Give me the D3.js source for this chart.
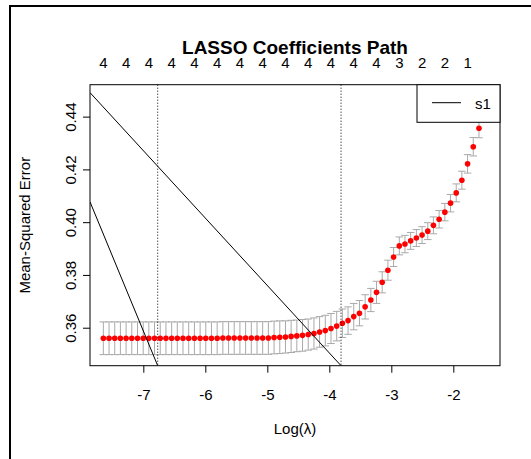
<!DOCTYPE html>
<html>
<head>
<meta charset="utf-8">
<script src="https://cdn.jsdelivr.net/npm/d3@7"></script>
<style>
  body { margin: 0; background: #fff; }
  text { font-family: "Liberation Sans", Arial, sans-serif; }
</style>
</head>
<body>
<div id="chart"></div>
<script>
// log(lambda) values of the cv path
const logLambda = [
  -7.645, -7.553, -7.461, -7.370, -7.278, -7.186, -7.094, -7.002, -6.911, -6.819,
  -6.727, -6.635, -6.543, -6.452, -6.360, -6.268, -6.176, -6.084, -5.993, -5.901,
  -5.809, -5.717, -5.625, -5.534, -5.442, -5.350, -5.258, -5.166, -5.075, -4.983,
  -4.891, -4.799, -4.707, -4.616, -4.524, -4.432, -4.340, -4.248, -4.157, -4.065,
  -3.973, -3.881, -3.789, -3.698, -3.606, -3.514, -3.422, -3.330, -3.239, -3.147,
  -3.055, -2.963, -2.871, -2.780, -2.688, -2.596, -2.504, -2.412, -2.321, -2.229,
  -2.137, -2.045, -1.953, -1.862, -1.770, -1.678, -1.586
];
// mean cross-validated error
const cvm = [
  0.3560, 0.3560, 0.3560, 0.3560, 0.3560, 0.3560, 0.3560, 0.3560, 0.3560, 0.3560,
  0.3560, 0.3560, 0.3560, 0.3560, 0.3560, 0.3560, 0.3560, 0.3560, 0.3560, 0.3560,
  0.3560, 0.3561, 0.3561, 0.3561, 0.3561, 0.3561, 0.3561, 0.3561, 0.3561, 0.3561,
  0.3563, 0.3564, 0.3565, 0.3567, 0.3569, 0.3571, 0.3574, 0.3578, 0.3584, 0.3589,
  0.3597, 0.3606, 0.3617, 0.3627, 0.3642, 0.3655, 0.3679, 0.3705, 0.3734, 0.3772,
  0.3818, 0.3868, 0.3910, 0.3917, 0.3929, 0.3940, 0.3951, 0.3966, 0.3988, 0.4011,
  0.4038, 0.4072, 0.4111, 0.4159, 0.4221, 0.4286, 0.4356
];
// standard error of cvm
const cvsd = [
  0.0062, 0.0062, 0.0062, 0.0062, 0.0062, 0.0062, 0.0062, 0.0062, 0.0062, 0.0062,
  0.0062, 0.0062, 0.0062, 0.0062, 0.0062, 0.0062, 0.0062, 0.0062, 0.0062, 0.0062,
  0.0062, 0.0062, 0.0062, 0.0062, 0.0062, 0.0062, 0.0062, 0.0062, 0.0062, 0.0062,
  0.0062, 0.0062, 0.0061, 0.0061, 0.0060, 0.0060, 0.0059, 0.0059, 0.0058, 0.0058,
  0.0057, 0.0056, 0.0054, 0.0052, 0.0050, 0.0048, 0.0046, 0.0044, 0.0042, 0.0040,
  0.0038, 0.0036, 0.0034, 0.0033, 0.0032, 0.0032, 0.0032, 0.0032, 0.0032, 0.0033,
  0.0033, 0.0033, 0.0034, 0.0034, 0.0035, 0.0035, 0.0036
];
// number of nonzero coefficients (top axis), every 4th lambda
const nzeroAt = [-7.645, -7.278, -6.911, -6.543, -6.176, -5.809, -5.442, -5.075, -4.707,
  -4.340, -3.973, -3.606, -3.239, -2.871, -2.504, -2.137, -1.770];
const nzeroLabels = ["4","4","4","4","4","4","4","4","4","4","4","4","4","3","2","2","1"];

const lambdaLines = [-6.768, -3.811]; // lambda.min, lambda.1se
const s1Lines = [
  [[-7.86, 0.4491], [-3.811, 0.3456]],
  [[-7.86, 0.4077], [-6.768, 0.3456]]
];
const legendLabels = ["s1"];

const xTicks = [-7, -6, -5, -4, -3, -2];
const yTicks = [0.36, 0.38, 0.40, 0.42, 0.44];

const W = 531, H = 459;
const margin = {top: 84.7, right: 31, bottom: 93.3, left: 90};
const width = W - margin.left - margin.right;
const height = H - margin.top - margin.bottom;

const svgRoot = d3.select("#chart").append("svg")
  .attr("width", W).attr("height", H);

// outer frame
svgRoot.append("rect")
  .attr("x", 10).attr("y", 6).attr("width", W + 20).attr("height", H + 20)
  .attr("fill", "none").attr("stroke", "#000").attr("stroke-width", 2);

const svg = svgRoot.append("g")
  .attr("transform", `translate(${margin.left},${margin.top})`);

const x = d3.scaleLinear().domain([-7.86, -1.247]).range([0, width]);
const y = d3.scaleLinear().domain([0.3456, 0.4521]).range([height, 0]);

svg.append("clipPath").attr("id", "clip")
  .append("rect").attr("width", width).attr("height", height);

const pts = logLambda.map((l, i) => ({l: l, m: cvm[i], sd: cvsd[i]}));
const barw = 0.0606;

// error bars
const eb = svg.append("g").attr("stroke", "#a9a9a9").attr("stroke-width", 1);
eb.selectAll(".v").data(pts).enter().append("line")
  .attr("x1", d => x(d.l)).attr("x2", d => x(d.l))
  .attr("y1", d => y(d.m + d.sd)).attr("y2", d => y(d.m - d.sd));
eb.selectAll(".u").data(pts).enter().append("line")
  .attr("x1", d => x(d.l - barw)).attr("x2", d => x(d.l + barw))
  .attr("y1", d => y(d.m + d.sd)).attr("y2", d => y(d.m + d.sd));
eb.selectAll(".lo").data(pts).enter().append("line")
  .attr("x1", d => x(d.l - barw)).attr("x2", d => x(d.l + barw))
  .attr("y1", d => y(d.m - d.sd)).attr("y2", d => y(d.m - d.sd));

svg.selectAll(".pt").data(pts).enter().append("circle")
  .attr("cx", d => x(d.l)).attr("cy", d => y(d.m))
  .attr("r", 2.8).attr("fill", "red");

// dotted lambda lines
svg.selectAll(".vl").data(lambdaLines).enter().append("line")
  .attr("x1", d => x(d)).attr("x2", d => x(d))
  .attr("y1", 0).attr("y2", height)
  .attr("stroke", "#000").attr("stroke-dasharray", "1,2");

const line = d3.line().x(d => x(d[0])).y(d => y(d[1]));
svg.append("g").attr("clip-path", "url(#clip)")
  .selectAll("path").data(s1Lines).enter().append("path")
  .attr("d", line).attr("fill", "none").attr("stroke", "#000");

// box
svg.append("rect").attr("width", width).attr("height", height)
  .attr("fill", "none").attr("stroke", "#000");

// axes
const xAxis = svg.append("g").attr("transform", `translate(0,${height})`)
  .call(d3.axisBottom(x).tickValues(xTicks).tickSize(7).tickFormat(d => String(d)));
xAxis.select(".domain").remove();
xAxis.selectAll("text").attr("font-size", 15).attr("dy", null).attr("y", 34);

const yAxis = svg.append("g")
  .call(d3.axisLeft(y).tickValues(yTicks).tickSize(7).tickFormat(d3.format(".2f")));
yAxis.select(".domain").remove();
yAxis.selectAll("text").attr("font-size", 15)
  .attr("x", null).attr("dy", null)
  .attr("text-anchor", "middle")
  .attr("transform", "translate(-14,0) rotate(-90)");

svg.selectAll(".nz").data(nzeroAt).enter().append("text")
  .attr("x", d => x(d)).attr("y", -17)
  .attr("text-anchor", "middle").attr("font-size", 15)
  .text((d, i) => nzeroLabels[i]);

svg.append("text")
  .attr("x", width / 2).attr("y", height + 68)
  .attr("text-anchor", "middle").attr("font-size", 15)
  .text("Log(λ)");

svg.append("text")
  .attr("transform", `translate(-60,${height / 2}) rotate(-90)`)
  .attr("text-anchor", "middle").attr("font-size", 15)
  .text("Mean-Squared Error");

svgRoot.append("text")
  .attr("x", margin.left + width / 2).attr("y", 54)
  .attr("text-anchor", "middle").attr("font-size", 19).attr("font-weight", "bold")
  .text("LASSO Coefficients Path");

// legend
const lg = svg.append("g").attr("transform", `translate(${width - 83},0)`);
lg.append("rect").attr("width", 83).attr("height", 37.6)
  .attr("fill", "#fff").attr("stroke", "#000");
lg.selectAll("line").data(legendLabels).enter().append("line")
  .attr("x1", 15).attr("x2", 44).attr("y1", 18).attr("y2", 18)
  .attr("stroke", "#000");
lg.selectAll("text").data(legendLabels).enter().append("text")
  .attr("x", 58).attr("y", 24).attr("font-size", 15)
  .text(d => d);
</script>
</body>
</html>
